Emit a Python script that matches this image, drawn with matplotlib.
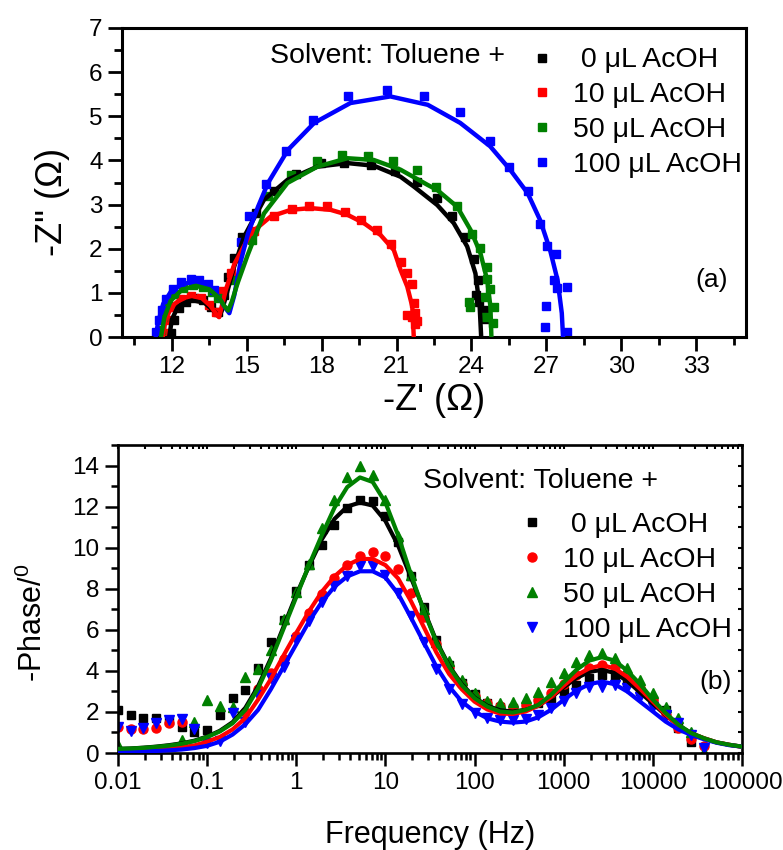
import numpy as np
import matplotlib
matplotlib.use("Agg")
import matplotlib.pyplot as plt
from matplotlib.ticker import MultipleLocator, FixedLocator, NullFormatter, LogLocator
from matplotlib.lines import Line2D

plt.rcParams['font.family'] = ['Liberation Sans', 'DejaVu Sans']
plt.rcParams['mathtext.fontset'] = 'custom'
plt.rcParams['mathtext.rm'] = 'Liberation Sans'
plt.rcParams['mathtext.it'] = 'Liberation Sans:italic'

# ---------------- data ----------------
series_labels = [' 0 \u03bcL AcOH', '10 \u03bcL AcOH', '50 \u03bcL AcOH', '100 \u03bcL AcOH']
series_colors = ['#000000', '#ff0000', '#008000', '#0000ff']

# (a) Nyquist: measured points
re_0 = [11.96, 12.09, 12.29, 12.56, 12.89, 13.23, 13.56, 13.83, 14.09, 14.23, 14.49, 14.80, 15.36, 16.07,
        16.96, 17.96, 18.89, 19.99, 20.92, 21.80, 22.63, 23.23, 23.76, 24.12, 24.25, 24.20, 24.29, 24.52, 24.59]
im_0 = [0.09, 0.39, 0.65, 0.80, 0.88, 0.84, 0.69, 0.57, 0.95, 1.37, 1.78, 2.27, 2.80, 3.31,
        3.70, 3.95, 3.94, 3.90, 3.75, 3.52, 3.14, 2.73, 2.27, 1.76, 1.29, 0.95, 0.80, 0.61, 0.40]
re_10 = [11.63, 11.76, 12.03, 12.36, 12.76, 13.16, 13.49, 13.76, 14.03, 14.36, 15.30, 16.07, 16.80, 17.49,
         18.23, 18.92, 19.59, 20.20, 20.76, 21.16, 21.40, 21.60, 21.69, 21.73, 21.43, 21.83, 21.60, 21.75]
im_10 = [0.08, 0.39, 0.67, 0.86, 0.92, 0.88, 0.73, 0.56, 1.04, 1.44, 2.40, 2.73, 2.90, 2.97,
         2.96, 2.84, 2.65, 2.43, 2.10, 1.71, 1.46, 1.20, 0.78, 0.54, 0.50, 0.37, 0.45, 0.30]
re_50 = [11.55, 11.65, 11.85, 12.10, 12.45, 12.85, 13.25, 13.60, 13.85, 14.50, 15.20, 15.83, 16.76, 17.80,
         18.83, 19.87, 20.87, 21.83, 22.60, 23.43, 24.03, 24.33, 24.63, 24.63, 24.76, 24.89, 24.87, 23.89,
         23.95, 24.56, 24.56]
im_50 = [0.15, 0.45, 0.75, 0.98, 1.12, 1.17, 1.13, 1.02, 0.88, 1.30, 2.20, 3.20, 3.67, 3.98,
         4.13, 4.10, 3.99, 3.79, 3.39, 2.97, 2.34, 2.01, 1.59, 1.31, 1.08, 0.69, 0.31, 0.80,
         0.69, 0.91, 0.45]
re_100 = [11.36, 11.49, 11.62, 11.78, 12.03, 12.36, 12.76, 13.09, 13.43, 13.69, 14.76, 15.09, 15.76, 16.56,
          17.67, 19.05, 20.63, 22.09, 23.53, 24.76, 25.49, 26.27, 26.73, 27.03, 27.40, 27.32, 27.83, 27.43,
          26.99, 26.93, 27.83]
im_100 = [0.12, 0.38, 0.62, 0.86, 1.08, 1.24, 1.31, 1.30, 1.20, 1.06, 2.16, 2.73, 3.46, 4.22,
          4.92, 5.45, 5.59, 5.45, 5.09, 4.45, 3.85, 3.30, 2.56, 2.06, 1.88, 1.29, 1.14, 1.10,
          0.70, 0.22, 0.11]

# (a) Nyquist: fitted curves
fit_re_0 = [11.89, 12.0, 12.25, 12.76, 13.3, 13.7, 13.89, 14.0, 14.16, 14.49, 14.89, 15.69, 16.63, 17.83,
            19.03, 20.09, 21.16, 21.69, 22.63, 23.29, 23.83, 24.16, 24.33, 24.39]
fit_im_0 = [0.0, 0.4, 0.7, 0.84, 0.78, 0.58, 0.46, 0.6, 0.91, 1.59, 2.27, 3.11, 3.56, 3.86,
            3.94, 3.88, 3.63, 3.41, 2.99, 2.58, 2.05, 1.44, 0.69, 0.0]
fit_re_10 = [11.63, 11.75, 12.0, 12.4, 12.8, 13.2, 13.55, 13.8, 13.89, 14.0, 14.16, 14.5, 15.16, 15.96,
             16.76, 17.56, 18.36, 19.03, 19.69, 20.36, 20.89, 21.16, 21.43, 21.63, 21.69]
fit_im_10 = [0.0, 0.4, 0.7, 0.88, 0.93, 0.88, 0.7, 0.5, 0.45, 0.7, 1.07, 1.65, 2.35, 2.73,
             2.88, 2.92, 2.88, 2.77, 2.58, 2.31, 1.97, 1.52, 1.14, 0.69, 0.0]
fit_re_50 = [11.56, 11.7, 11.95, 12.4, 12.96, 13.5, 13.9, 14.1, 14.25, 14.4, 14.63, 15.03, 15.69, 16.63,
             17.83, 19.03, 20.09, 21.16, 22.23, 22.63, 23.43, 23.96, 24.36, 24.63, 24.76, 24.8]
fit_im_50 = [0.0, 0.45, 0.82, 1.07, 1.16, 1.08, 0.88, 0.7, 0.6, 0.8, 1.22, 1.85, 2.8, 3.49,
             3.86, 4.05, 4.01, 3.79, 3.45, 3.33, 2.95, 2.43, 1.9, 1.29, 0.69, 0.0]
fit_re_100 = [11.35, 11.45, 11.65, 11.95, 12.4, 12.95, 13.45, 13.85, 14.15, 14.3, 14.5, 14.75, 15.05, 15.45,
              15.85, 16.65, 17.7, 19.15, 20.75, 22.25, 23.55, 24.75, 25.55, 26.25, 26.75, 27.15, 27.45,
              27.62, 27.67]
fit_im_100 = [0.0, 0.35, 0.75, 1.02, 1.2, 1.25, 1.15, 0.92, 0.65, 0.54, 0.95, 1.7, 2.35, 2.95,
              3.49, 4.24, 4.85, 5.3, 5.45, 5.26, 4.85, 4.32, 3.79, 3.26, 2.65, 1.97, 1.29,
              0.54, 0.0]

# (b) Bode phase: measured points
freq = [0.01, 0.01389, 0.01931, 0.02683, 0.03728, 0.05179, 0.07197, 0.1, 0.1389, 0.1931, 0.2683, 0.3728,
        0.5179, 0.7197, 1, 1.389, 1.931, 2.683, 3.728, 5.179, 7.197, 10, 13.89, 19.31, 26.83, 37.28,
        51.79, 71.97, 100, 138.9, 193.1, 268.3, 372.8, 517.9, 719.7, 1000, 1389, 1931, 2683, 3728,
        5179, 7197, 10000, 13890, 19310, 26830, 37280]
phase_0 = [2.10, 1.85, 1.69, 1.69, 1.57, 1.28, 1.04, 1.12, 1.85, 2.67, 3.05, 4.15, 5.40, 6.49, 7.87, 9.17,
           10.15, 11.12, 11.93, 12.34, 12.26, 11.53, 10.3, 8.6, 7.1, 5.5, 4.3, 3.4, 2.85, 2.45, 2.25,
           2.2, 2.3, 2.45, 2.7, 3.0, 3.3, 3.65, 3.8, 3.75, 3.45, 3.0, 2.6, 2.1, 1.2, 0.55, np.nan]
phase_10 = [1.28, 1.15, 1.15, 1.2, 1.45, 1.53, np.nan, np.nan, np.nan, np.nan, 2.0, 3.12, 3.9, 4.6, 5.71,
            6.8, 7.75, 8.52, 9.17, 9.58, 9.77, 9.6, 8.95, 7.8, 6.6, 5.3, 4.2, 3.35, 2.8, 2.45, 2.3, 2.25,
            2.35, 2.6, 2.9, 3.35, 3.8, 4.13, 4.29, 4.2, 3.72, 3.15, 2.59, 1.85, 1.2, 0.67, 0.35]
phase_50 = [0.39, np.nan, np.nan, np.nan, np.nan, 0.63, 1.53, 2.57, 2.28, 2.26, 3.7, 4.1, 5.04, 6.55, 7.83,
            9.2, 10.96, 12.34, 13.42, 13.97, 13.53, 12.34, 10.55, 8.68, 7.0, 5.43, 4.46, 3.56, 2.91, 2.55,
            2.42, 2.46, 2.67, 2.99, 3.48, 3.92, 4.41, 4.76, 4.86, 4.62, 4.13, 3.56, 2.91, 2.26, 1.69, 1.0,
            0.07]
phase_100 = [1.28, 1.09, 1.2, 1.45, 1.61, 1.66, 1.15, 0.47, 0.6, 1.93, 1.53, 2.83, 3.64, 4.2, 5.5, 6.45,
             7.35, 8.11, 8.6, 9.09, 9.09, 8.68, 7.79, 6.65, 5.4, 4.1, 3.1, 2.4, 1.95, 1.7, 1.6, 1.6, 1.65,
             1.85, 2.2, 2.55, 2.9, 3.2, 3.2, 3.3, 3.15, 2.75, 2.26, 1.85, 1.45, 0.88, 0.23]

# (b) Bode phase: fitted curves
fit_freq = freq + [51790, 71970, 100000]
fit_phase_0 = [0.2, 0.22, 0.26, 0.31, 0.38, 0.47, 0.6, 0.8, 1.08, 1.5, 2.2, 3.25, 4.6, 6.15, 7.7, 9.1, 10.4,
               11.4, 12.0, 12.2, 12.05, 11.3, 10.1, 8.55, 7.0, 5.45, 4.25, 3.35, 2.7, 2.3, 2.08, 2.02, 2.1,
               2.3, 2.7, 3.2, 3.65, 3.95, 4.05, 3.9, 3.5, 2.95, 2.4, 1.85, 1.35, 0.97, 0.72, 0.52, 0.4, 0.31]
fit_phase_10 = [0.1, 0.12, 0.15, 0.18, 0.22, 0.28, 0.37, 0.55, 0.78, 1.15, 1.7, 2.6, 3.6, 4.75, 5.85, 6.9,
                7.85, 8.6, 9.15, 9.45, 9.45, 9.15, 8.5, 7.4, 6.15, 4.9, 3.85, 3.1, 2.5, 2.12, 1.92, 1.9, 2.02,
                2.3, 2.72, 3.28, 3.78, 4.12, 4.28, 4.12, 3.7, 3.12, 2.5, 1.87, 1.33, 0.96, 0.72, 0.52, 0.4, 0.3]
fit_phase_50 = [0.2, 0.22, 0.25, 0.3, 0.36, 0.45, 0.58, 0.78, 1.05, 1.45, 2.1, 3.15, 4.5, 6.05, 7.6, 9.15,
                10.6, 11.95, 12.95, 13.42, 13.2, 12.2, 10.6, 8.7, 6.95, 5.4, 4.2, 3.3, 2.67, 2.26, 2.02, 1.97,
                2.1, 2.34, 2.83, 3.45, 4.05, 4.5, 4.67, 4.5, 4.0, 3.35, 2.6, 1.95, 1.38, 0.97, 0.72, 0.52, 0.4,
                0.31]
fit_phase_100 = [0.05, 0.06, 0.08, 0.1, 0.13, 0.17, 0.24, 0.35, 0.55, 0.9, 1.4, 2.1, 3.1, 4.2, 5.3, 6.4,
                 7.35, 8.1, 8.6, 8.85, 8.85, 8.55, 7.75, 6.6, 5.4, 4.21, 3.24, 2.5, 2.02, 1.69, 1.53, 1.48,
                 1.53, 1.74, 2.1, 2.59, 3.04, 3.35, 3.48, 3.35, 2.99, 2.5, 2.02, 1.53, 1.15, 0.88, 0.67, 0.5,
                 0.38, 0.31]

freq_ticks = [0.01, 0.1, 1, 10, 100, 1000, 10000, 100000]
freq_tick_labels = ['0.01', '0.1', '1', '10', '100', '1000', '10000', '100000']

# ---------------- figure ----------------
W, H = 783, 850
fig = plt.figure(figsize=(W / 100, H / 100), dpi=100)
ax1 = fig.add_axes([122 / W, 1 - 337 / H, 624 / W, 309 / H])
ax2 = fig.add_axes([118 / W, 1 - 753 / H, 624 / W, 308 / H])

TICK_FS = 17.5
LEG_FS = 20.5

# ---- panel (a) ----
nyq_pts = [(re_0, im_0), (re_10, im_10), (re_50, im_50), (re_100, im_100)]
nyq_fit = [(fit_re_0, fit_im_0), (fit_re_10, fit_im_10), (fit_re_50, fit_im_50), (fit_re_100, fit_im_100)]
for (x, y), c in zip(nyq_pts, series_colors):
    ax1.plot(x, y, ls='none', marker='s', ms=6, color=c, mec=c, zorder=2)
for i in [0, 1, 3, 2]:
    x, y = nyq_fit[i]
    ax1.plot(x, y, color=series_colors[i], lw=3.2, zorder=3, solid_capstyle='round')

ax1.set_xlim(10, 35)
ax1.set_ylim(0, 7)
ax1.xaxis.set_major_locator(FixedLocator([12, 15, 18, 21, 24, 27, 30, 33]))
ax1.xaxis.set_minor_locator(MultipleLocator(1.5))
ax1.yaxis.set_major_locator(MultipleLocator(1))
ax1.yaxis.set_minor_locator(MultipleLocator(0.5))
for s in ax1.spines.values():
    s.set_linewidth(2.2)
ax1.tick_params(which='major', direction='out', length=10, width=2, labelsize=TICK_FS, pad=4)
ax1.tick_params(which='minor', direction='out', length=5.5, width=2)
ax1.set_xlabel("-Z' (\u03a9)", fontsize=26, va='center')
ax1.xaxis.set_label_coords(0.5, -0.205)
ax1.set_ylabel('-Z" (\u03a9)', fontsize=26, va='center')
ax1.yaxis.set_label_coords(-0.112, 0.437)

ax1.text(0.237, 0.908, 'Solvent: Toluene +', transform=ax1.transAxes, fontsize=LEG_FS, va='center', ha='left')
h1 = [Line2D([], [], ls='none', marker='s', ms=6, color=c) for c in series_colors]
ax1.legend(h1, series_labels, loc='upper left', bbox_to_anchor=(0.651, 0.937), frameon=False,
           fontsize=LEG_FS, handlelength=1.0, handletextpad=0.58, labelspacing=0.31,
           borderpad=0, borderaxespad=0)
ax1.text(0.9455, 0.184, '(a)', transform=ax1.transAxes, fontsize=19, ha='center', va='center')

# ---- panel (b) ----
bode_pts = [phase_0, phase_10, phase_50, phase_100]
bode_fit = [fit_phase_0, fit_phase_10, fit_phase_50, fit_phase_100]
markers = ['s', 'o', '^', 'v']
msizes = [6, 6.5, 7.5, 7.5]
for y, c, m, ms in zip(bode_pts, series_colors, markers, msizes):
    ax2.plot(freq, y, ls='none', marker=m, ms=ms, color=c, mec=c, zorder=2)
for i in [0, 1, 3, 2]:
    ax2.plot(fit_freq, bode_fit[i], color=series_colors[i], lw=3.0, zorder=3)

ax2.set_xscale('log')
ax2.set_xlim(0.01, 100000)
ax2.set_ylim(0, 15)
ax2.set_xticks(freq_ticks)
ax2.set_xticklabels(freq_tick_labels)
ax2.xaxis.set_minor_locator(LogLocator(base=10, subs=np.arange(2, 10), numticks=20))
ax2.xaxis.set_minor_formatter(NullFormatter())
ax2.yaxis.set_major_locator(FixedLocator([0, 2, 4, 6, 8, 10, 12, 14]))
ax2.yaxis.set_minor_locator(MultipleLocator(1))
for s in ax2.spines.values():
    s.set_linewidth(1.9)
ax2.tick_params(which='major', direction='out', length=9.5, width=1.8, labelsize=TICK_FS, pad=4)
ax2.tick_params(which='minor', direction='out', length=5, width=1.8)

# short mirror ticks along top and right edges
sec_x = ax2.secondary_xaxis('top')
sec_x.xaxis.set_minor_locator(LogLocator(base=10, subs=np.arange(2, 10), numticks=20))
sec_x.tick_params(which='both', direction='in', length=3, width=1.5, labeltop=False)
sec_x.xaxis.set_minor_formatter(NullFormatter())
sec_y = ax2.secondary_yaxis('right')
sec_y.yaxis.set_major_locator(MultipleLocator(1))
sec_y.tick_params(which='both', direction='in', length=3, width=1.5, labelright=False)

ax2.set_xlabel('Frequency (Hz)', fontsize=22, va='center')
ax2.xaxis.set_label_coords(0.5, -0.265)
ax2.set_ylabel('-Phase/$^{\\mathit{0}}$', fontsize=22, va='center')
ax2.yaxis.set_label_coords(-0.136, 0.422)

ax2.text(0.489, 0.883, 'Solvent: Toluene +', transform=ax2.transAxes, fontsize=LEG_FS, va='center', ha='left')
h2 = [Line2D([], [], ls='none', marker=m, ms=ms, color=c) for c, m, ms in zip(series_colors, markers, msizes)]
ax2.legend(h2, series_labels, loc='upper left', bbox_to_anchor=(0.641, 0.781), frameon=False,
           fontsize=LEG_FS, handlelength=1.0, handletextpad=0.58, labelspacing=0.31,
           borderpad=0, borderaxespad=0)
ax2.text(0.957, 0.23, '(b)', transform=ax2.transAxes, fontsize=19, ha='center', va='center')

fig.savefig('out.png', dpi=100)
